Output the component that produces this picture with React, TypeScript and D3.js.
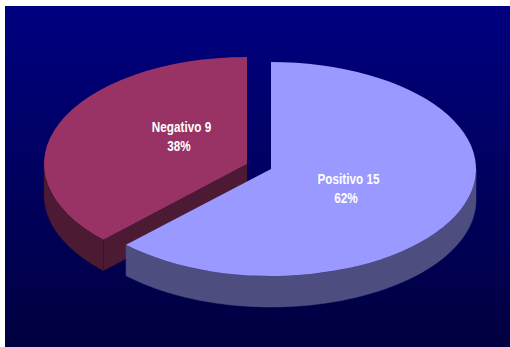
import React from "react";
import * as d3 from "d3";

// Survey result: share of negative and positive answers.
const categories = ["Positivo", "Negativo"];
const values = [15, 9];
const percentLabels = ["62%", "38%"];
const topColors = ["#9999ff", "#993366"];
const wallColors = ["#4d4d80", "#4d1a33"];

const WIDTH = 510;
const HEIGHT = 347;
const RY = 107;
const DEPTH = 31;
const radii = [205, 203];
const centers = [
  { x: 271, y: 169 },
  { x: 247, y: 164 },
];
const labelAnchors = [
  { x: 348.5, y: 184 },
  { x: 181.5, y: 132 },
];

const pie = d3.pie<number>().sort(null).startAngle(0).endAngle(2 * Math.PI);
const arcs = pie(values);

// Clockwise angle from twelve o'clock to a point on the tilted rim.
const rimPoint = (a: number, rx: number, cx: number, cy: number) => [
  cx + rx * Math.sin(a),
  cy - RY * Math.cos(a),
];

// Outer wall: only the stretch of the rim facing the viewer is visible.
function wallPath(a0: number, a1: number, rx: number, cx: number, cy: number) {
  const from = Math.max(a0, Math.PI / 2);
  const to = Math.min(a1, (3 * Math.PI) / 2);
  if (to <= from) return "";
  const angles = d3.range(0, 61).map((i) => from + ((to - from) * i) / 60);
  const path = d3.path();
  angles.forEach((a, i) => {
    const [x, y] = rimPoint(a, rx, cx, cy);
    if (i === 0) path.moveTo(x, y + DEPTH);
    else path.lineTo(x, y + DEPTH);
  });
  angles
    .slice()
    .reverse()
    .forEach((a) => {
      const [x, y] = rimPoint(a, rx, cx, cy);
      path.lineTo(x, y);
    });
  path.closePath();
  return path.toString();
}

// Cut face running from the centre to the rim at the slice's start angle.
function cutFacePath(a: number, rx: number, cx: number, cy: number) {
  const [x, y] = rimPoint(a, rx, cx, cy);
  const path = d3.path();
  path.moveTo(cx, cy);
  path.lineTo(x, y);
  path.lineTo(x, y + DEPTH);
  path.lineTo(cx, cy + DEPTH);
  path.closePath();
  return path.toString();
}

export default function App() {
  // Drawn back to front: the negative slice sits behind the positive one.
  const order = [1, 0];
  return (
    <svg
      width={WIDTH}
      height={HEIGHT}
      style={{ position: "absolute", left: 0, top: 0, background: "#fff" }}
    >
      <defs>
        <linearGradient id="backdrop" x1="0" y1="0" x2="0" y2="1">
          <stop offset="0" stopColor="#000080" />
          <stop offset="1" stopColor="#000040" />
        </linearGradient>
      </defs>
      <rect x={5} y={6} width={WIDTH - 5} height={HEIGHT - 6} fill="url(#backdrop)" />
      {order.map((i) => {
        const d = arcs[i];
        const c = centers[i];
        const rx = radii[i];
        const arc = d3.arc<d3.PieArcDatum<number>>().innerRadius(0).outerRadius(rx);
        return (
          <g key={categories[i]}>
            {i === 1 && (
              <path
                d={cutFacePath(d.startAngle, rx, c.x, c.y)}
                fill={wallColors[i]}
                stroke="#3f1229"
                strokeWidth={0.5}
              />
            )}
            <path
              d={wallPath(d.startAngle, d.endAngle, rx, c.x, c.y)}
              fill={wallColors[i]}
              stroke={i === 1 ? "#3f1229" : wallColors[i]}
              strokeWidth={0.5}
            />
            <path
              d={arc(d) ?? ""}
              fill={topColors[i]}
              transform={`translate(${c.x},${c.y}) scale(1,${RY / rx})`}
            />
          </g>
        );
      })}
      {order.map((i) => (
        <text
          key={categories[i]}
          transform={`translate(${labelAnchors[i].x},${labelAnchors[i].y}) scale(0.84,1)`}
          textAnchor="middle"
          fontFamily="'Liberation Sans', Arial, sans-serif"
          fontWeight="bold"
          fontSize={14}
          fill="#fff"
        >
          <tspan x={0}>{`${categories[i]} ${values[i]}`}</tspan>
          <tspan x={-3} dy={19.5}>
            {percentLabels[i]}
          </tspan>
        </text>
      ))}
    </svg>
  );
}
